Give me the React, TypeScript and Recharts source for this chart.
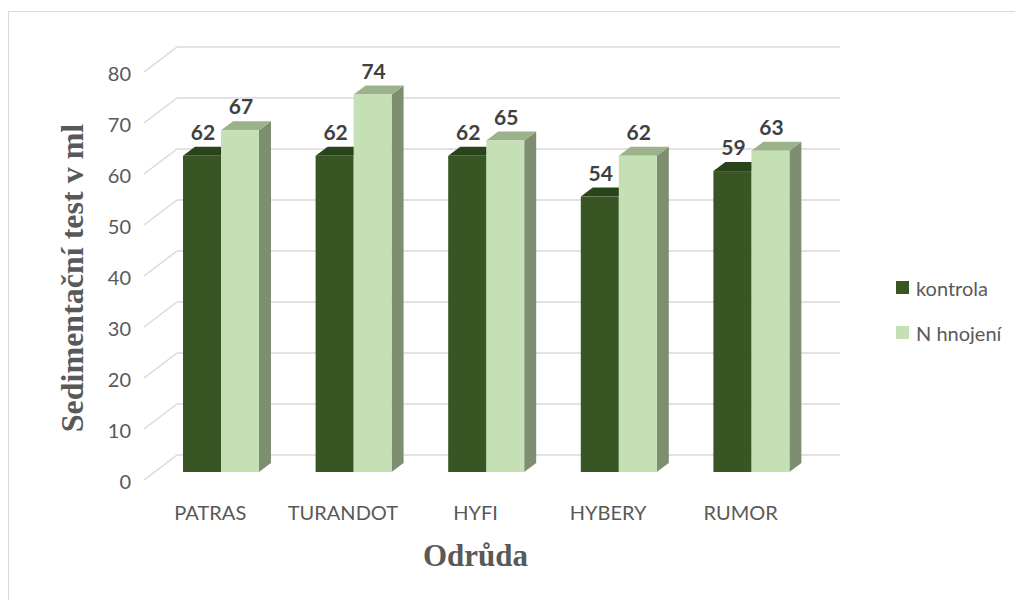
import { BarChart, Bar, XAxis, YAxis, CartesianGrid, Legend, LabelList, Label } from 'recharts';

const categories = ['PATRAS', 'TURANDOT', 'HYFI', 'HYBERY', 'RUMOR'];
const kontrola = [62, 62, 62, 54, 59];
const nHnojeni = [67, 74, 65, 62, 63];
const yTicks = [0, 10, 20, 30, 40, 50, 60, 70, 80];
const seriesNames = ['kontrola', 'N hnojení'];

const data = categories.map((name, i) => ({
  name,
  kontrola: kontrola[i],
  hnojeni: nHnojeni[i],
}));

const FONT = 'Lato, "Open Sans", sans-serif';
const SERIF = '"Liberation Serif", "DejaVu Serif", serif';

// fake 3D: back wall offset, and bars sit a third of the way in
const WALL_X = 33;
const WALL_Y = -25;
const SHIFT_X = 11;
const SHIFT_Y = -8;
const BAR_DX = 12;
const BAR_DY = -9;

const DARK = { front: '#375623', top: '#29441a', side: '#2f4a1d' };
const LIGHT = { front: '#c5e0b4', top: '#9bb28b', side: '#7e8f71' };

function Column3D(props: any) {
  const { x, y, width, height, colors } = props;
  if (width == null || height == null) return null;
  const fx = x + SHIFT_X;
  const fy = y + SHIFT_Y;
  const r = fx + width;
  const b = fy + height;
  return (
    <g>
      <polygon
        points={`${r},${fy} ${r + BAR_DX},${fy + BAR_DY} ${r + BAR_DX},${b + BAR_DY} ${r},${b}`}
        fill={colors.side}
      />
      <polygon
        points={`${fx},${fy} ${r},${fy} ${r + BAR_DX},${fy + BAR_DY} ${fx + BAR_DX},${fy + BAR_DY}`}
        fill={colors.top}
      />
      <rect x={fx} y={fy} width={width} height={height} fill={colors.front} />
    </g>
  );
}

function ValueLabel(props: any) {
  const { x, y, width, value } = props;
  return (
    <text
      x={x + SHIFT_X + width / 2 + 1}
      y={y + SHIFT_Y - 16}
      textAnchor="middle"
      fontFamily={FONT}
      fontWeight="bold"
      fontSize={21}
      fill="#404040"
    >
      {value}
    </text>
  );
}

function WallLine(p: any) {
  const stroke = '#d9d9d9';
  return (
    <g key={`wall-${p.y1}`}>
      <line x1={p.x1} y1={p.y1} x2={p.x1 + WALL_X} y2={p.y1 + WALL_Y} stroke={stroke} strokeWidth={1.5} />
      <line
        x1={p.x1 + WALL_X}
        y1={p.y1 + WALL_Y}
        x2={p.x2 + WALL_X}
        y2={p.y2 + WALL_Y}
        stroke={stroke}
        strokeWidth={1.5}
      />
    </g>
  );
}

function YTick(props: any) {
  const { x, y, payload } = props;
  return (
    <text x={x - 5} y={y} dy={9} textAnchor="end" fontFamily={FONT} fontSize={20} fill="#595959">
      {payload.value}
    </text>
  );
}

function XTick(props: any) {
  const { x, y, payload } = props;
  return (
    <text x={x} y={y} dy={32} textAnchor="middle" fontFamily={FONT} fontSize={20} fill="#595959">
      {payload.value}
    </text>
  );
}

function LegendBox(props: any) {
  const items = [...(props.payload || [])].sort(
    (a: any, b: any) => seriesNames.indexOf(a.value) - seriesNames.indexOf(b.value)
  );
  return (
    <div style={{ fontFamily: FONT, fontSize: 20, color: '#595959' }}>
      {items.map((it: any) => (
        <div key={it.value} style={{ display: 'flex', alignItems: 'center', height: 45 }}>
          <span
            style={{ display: 'inline-block', width: 13, height: 13, background: it.color, marginRight: 7 }}
          />
          {it.value}
        </div>
      ))}
    </div>
  );
}

export default function App() {
  return (
    <div style={{ position: 'relative', width: 1015, height: 592, overflow: 'hidden', background: '#fff' }}>
      <div
        style={{
          position: 'absolute',
          left: 0,
          top: 3,
          width: 2000,
          height: 2000,
          border: '1px solid #d9d9d9',
          boxSizing: 'border-box',
        }}
      />
      <div style={{ position: 'absolute', left: 0, top: 0 }}>
        <BarChart
          width={1015}
          height={592}
          data={data}
          barSize={38}
          barGap={0}
          margin={{ top: 64, right: 216, bottom: 80, left: 0 }}
        >
          <CartesianGrid vertical={false} horizontal={WallLine} />
          <XAxis dataKey="name" height={40} axisLine={false} tickLine={false} tick={<XTick />} interval={0}>
            <Label
              content={(p: any) => {
                const vb = p.viewBox;
                return (
                  <text
                    x={vb.x + vb.width / 2}
                    y={558}
                    textAnchor="middle"
                    fontFamily={SERIF}
                    fontWeight="bold"
                    fontSize={31}
                    fill="#595959"
                  >
                    Odrůda
                  </text>
                );
              }}
            />
          </XAxis>
          <YAxis
            width={136}
            domain={[0, 80]}
            ticks={yTicks}
            axisLine={false}
            tickLine={false}
            tick={<YTick />}
          >
            <Label
              content={() => (
                <text
                  x={75}
                  y={270}
                  transform="rotate(-90 75 270)"
                  textAnchor="middle"
                  fontFamily={SERIF}
                  fontWeight="bold"
                  fontSize={32}
                  fill="#595959"
                >
                  Sedimentační test v ml
                </text>
              )}
            />
          </YAxis>
          <Legend
            layout="horizontal"
            align="center"
            verticalAlign="middle"
            content={<LegendBox />}
            wrapperStyle={{ left: 888, top: 257, width: 130 }}
          />
          <Bar
            dataKey="kontrola"
            name="kontrola"
            fill={DARK.front}
            isAnimationActive={false}
            shape={(p: any) => <Column3D {...p} colors={DARK} />}
          >
            <LabelList dataKey="kontrola" content={<ValueLabel />} />
          </Bar>
          <Bar
            dataKey="hnojeni"
            name="N hnojení"
            fill={LIGHT.front}
            isAnimationActive={false}
            shape={(p: any) => <Column3D {...p} colors={LIGHT} />}
          >
            <LabelList dataKey="hnojeni" content={<ValueLabel />} />
          </Bar>
        </BarChart>
      </div>
    </div>
  );
}
